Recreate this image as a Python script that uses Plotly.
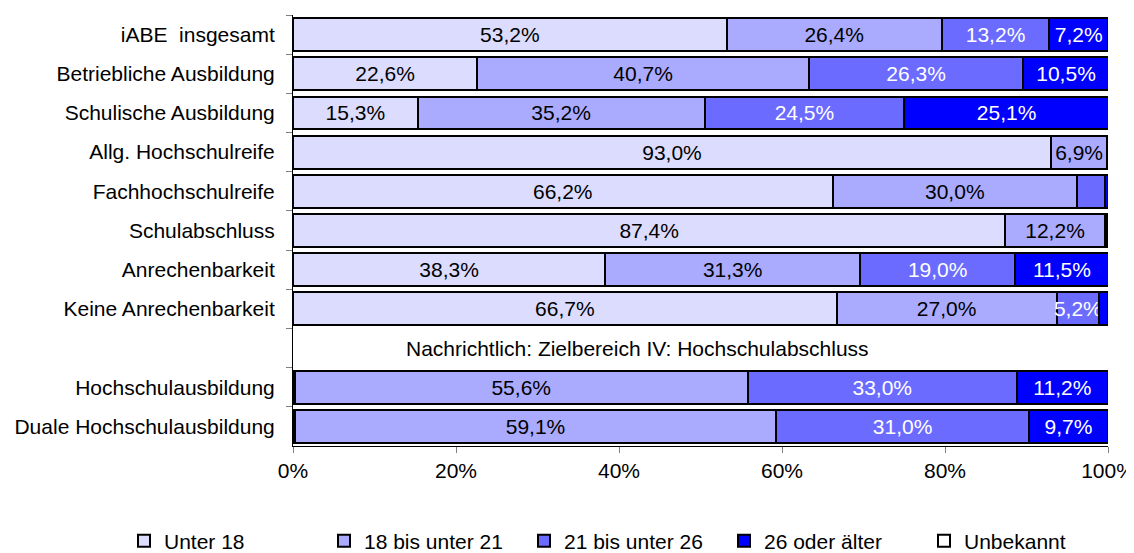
import plotly.graph_objects as go

categories = [
    "iABE  insgesamt",
    "Betriebliche Ausbildung",
    "Schulische Ausbildung",
    "Allg. Hochschulreife",
    "Fachhochschulreife",
    "Schulabschluss",
    "Anrechenbarkeit",
    "Keine Anrechenbarkeit",
    " ",
    "Hochschulausbildung",
    "Duale Hochschulausbildung",
]

series_names = ["Unter 18", "18 bis unter 21", "21 bis unter 26", "26 oder älter", "Unbekannt"]

unter_18 = [53.2, 22.6, 15.3, 93.0, 66.2, 87.4, 38.3, 66.7, None, 0.2, 0.2]
bis_21 = [26.4, 40.7, 35.2, 6.9, 30.0, 12.2, 31.3, 27.0, None, 55.6, 59.1]
bis_26 = [13.2, 26.3, 24.5, 0.1, 3.4, 0.3, 19.0, 5.2, None, 33.0, 31.0]
ab_26 = [7.2, 10.5, 25.1, 0.0, 0.4, 0.1, 11.5, 1.1, None, 11.2, 9.7]
unbekannt = [0.0, 0.0, 0.0, 0.0, 0.0, 0.0, 0.0, 0.0, None, 0.0, 0.0]

series_values = [unter_18, bis_21, bis_26, ab_26, unbekannt]
colors = ["#DCDCFF", "#AAAAFF", "#6B6BFF", "#0000FF", "#FFFFFF"]
text_colors = ["black", "black", "white", "white", "black"]

x_tickvals = [0, 20, 40, 60, 80, 100]
x_ticktext = ["0%", "20%", "40%", "60%", "80%", "100%"]

note_text = "Nachrichtlich: Zielbereich IV: Hochschulabschluss"

FONT = "Liberation Sans, Arial, sans-serif"
FS = 21

# the page body has an 8px default margin, so the figure is drawn 8px smaller
W, H = 1126, 545
ML, MR, MT, MB = 285, 26, 7, 107
PW, PH = W - ML - MR, H - MT - MB


def fmt(v):
    if v is None or v < 5:
        return ""
    return f"{v:.1f}".replace(".", ",") + "%"


fig = go.Figure()
for name, vals, col, tcol in zip(series_names, series_values, colors, text_colors):
    fig.add_trace(go.Bar(
        name=name,
        y=categories,
        x=vals,
        orientation="h",
        marker=dict(color=col, line=dict(color="black", width=2)),
        text=[fmt(v) for v in vals],
        textposition="inside",
        insidetextanchor="middle",
        textangle=0,
        constraintext="none",
        insidetextfont=dict(color=tcol, size=FS, family=FONT),
        hoverinfo="x+y+name",
    ))

fig.add_annotation(
    x=42.3, y=" ", xref="x", yref="y",
    text=note_text, showarrow=False,
    font=dict(size=FS, color="black", family=FONT),
)

fig.update_layout(
    barmode="stack",
    bargap=0.16,
    width=W,
    height=H,
    margin=dict(l=ML, r=MR, t=MT, b=MB, autoexpand=False),
    plot_bgcolor="white",
    paper_bgcolor="white",
    font=dict(family=FONT, size=FS, color="black"),
    legend=dict(
        orientation="h",
        xref="paper",
        yref="paper",
        x=(116 - ML) / PW, xanchor="left",
        y=-(533 - (MT + PH)) / PH, yanchor="middle",
        font=dict(size=FS, family=FONT),
        entrywidth=155,
        entrywidthmode="pixels",
        traceorder="normal",
        itemwidth=30,
    ),
    xaxis=dict(
        range=[0, 100],
        tickvals=x_tickvals,
        ticktext=x_ticktext,
        showgrid=False,
        zeroline=False,
        showline=True,
        linecolor="black",
        linewidth=1,
        ticks="outside",
        ticklen=6,
        tickcolor="#808080",
        tickfont=dict(size=FS, family=FONT),
        ticklabeloverflow="allow",
        automargin=False,
    ),
    yaxis=dict(
        categoryorder="array",
        categoryarray=categories,
        autorange="reversed",
        showgrid=False,
        showline=True,
        linecolor="black",
        linewidth=1,
        ticks="outside",
        tickson="boundaries",
        ticklen=6,
        tickcolor="#808080",
        tickfont=dict(size=FS, family=FONT),
        ticklabelstandoff=13,
        automargin=False,
    ),
)

fig.write_html("out.html")
